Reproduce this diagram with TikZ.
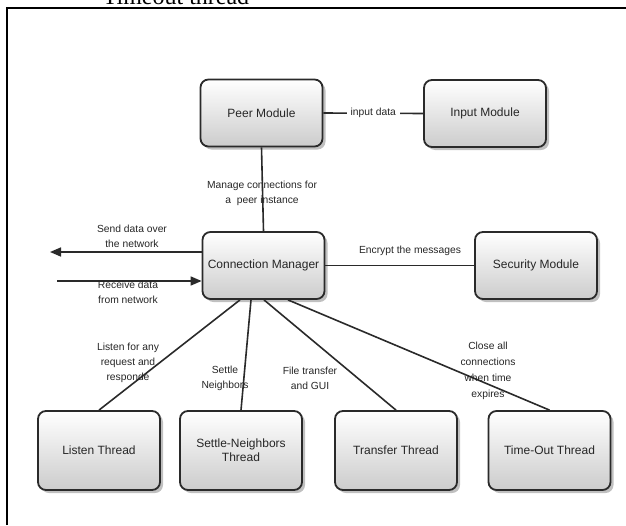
\documentclass[tikz,border=0pt]{standalone}
\usepackage{fontspec}
\setmainfont{Liberation Sans}
\newfontfamily\serifont{Liberation Serif}
\usetikzlibrary{shadows,arrows.meta}
\definecolor{edge}{HTML}{2A2A2A}
\definecolor{txt}{HTML}{262626}
\tikzset{
  modbox/.style={draw=edge, line width=1.8pt, rounded corners=8pt,
    top color=white, bottom color=black!20, text=txt,
    minimum width=122pt, minimum height=67pt, align=center,
    font=\fontsize{12}{14}\selectfont,
    drop shadow={shadow xshift=3pt, shadow yshift=-3pt, fill=black!45, opacity=0.55}},
  thrbox/.style={modbox, minimum height=79pt},
  conn/.style={draw=edge, line width=1.6pt},
  lbl/.style={text=txt, align=center, font=\fontsize{10.3}{15}\selectfont, inner sep=1pt},
  tip/.style={-{Triangle[length=11pt,width=9pt]}}
}
\begin{document}
\begin{tikzpicture}[x=1pt,y=-1pt]
\useasboundingbox (0,0) rectangle (626,525);
\clip (0,0) rectangle (626,525);
% frame
\draw[line width=1.3pt] (7,525) -- (7,8) -- (626,8);
\node[font=\serifont\fontsize{24}{26}\selectfont, anchor=base, inner sep=0pt] (cap) at (176,4) {Timeout thread};
% boxes
\node[modbox] (peer) at (261.5,113) {Peer Module};
\node[modbox] (input) at (485,113.5) {Input Module};
\node[modbox] (cm) at (263.5,265.5) {Connection Manager};
\node[modbox] (sec) at (536,265.5) {Security Module};
\node[thrbox] (listen) at (99,450.5) {Listen Thread};
\node[thrbox] (settle) at (241,450.5) {Settle-Neighbors\\Thread};
\node[thrbox] (transfer) at (396,450.5) {Transfer Thread};
\node[thrbox] (timeout) at (549.5,450.5) {Time-Out Thread};
% connectors
\draw[conn] (peer.south) -- (cm.north);
\draw[conn] (peer.east) -- node[lbl, fill=white, inner sep=4pt] (lin) {input data} (input.west);
\draw[conn] (cm.east) -- (sec.west);
\coordinate (sendend) at (50,252);
\coordinate (recvstart) at (57,281);
\draw[conn, tip] (cm.west |- sendend) -- (sendend);
\draw[conn, tip] (recvstart) -- (cm.west |- recvstart);
\draw[conn] ([xshift=-23.5pt]cm.south) -- (listen.north);
\draw[conn] ([xshift=-12.5pt]cm.south) -- (settle.north);
\draw[conn] ([xshift=0.5pt]cm.south) -- (transfer.north);
\draw[conn] ([xshift=24.5pt]cm.south) -- (timeout.north);
% labels
\node[lbl] (lmanage) at (262,193) {Manage connections for\\a\ \ peer instance};
\node[lbl] (lenc) at (410,251) {Encrypt the messages};
\node[lbl] (lsend) at (132,236.5) {Send data over\\the network};
\node[lbl] (lrecv) at (128,292.5) {Receive data\\from network};
\node[lbl] (llisten) at (128,363) {Listen for any\\request and\\responde};
\node[lbl] (lsettle) at (225,378) {Settle\\Neighbors};
\node[lbl] (lfile) at (310,378) {File transfer\\and GUI};
\node[lbl, font=\fontsize{10.3}{16}\selectfont] (lclose) at (488,371) {Close all\\connections\\when time\\expires};
\end{tikzpicture}
\end{document}
